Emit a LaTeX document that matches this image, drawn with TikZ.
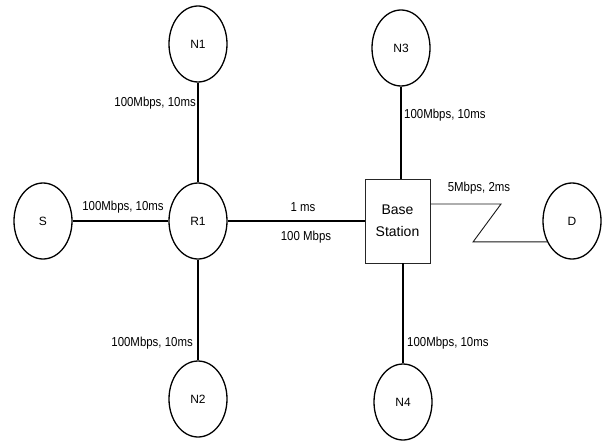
\documentclass[tikz,border=0pt]{standalone}
\usepackage{fontspec}
\setmainfont{Liberation Sans}
\newfontfamily\lblfont[FakeStretch=0.88]{Liberation Sans}
\usetikzlibrary{shapes.geometric}

\begin{document}
\begin{tikzpicture}[x=1pt,y=-1pt,
  host/.style={ellipse,draw,line width=1.3pt,minimum width=58pt,minimum height=76pt,inner sep=0pt,font=\fontsize{12}{14}\selectfont},
  bs/.style={rectangle,draw=black!85,line width=0.8pt,minimum width=65pt,minimum height=84pt,align=center,font=\fontsize{14}{22}\selectfont},
  link/.style={line width=1.2pt},
  wlink/.style={line width=0.9pt,black!90},
  lbl/.style={inner sep=0pt,font=\lblfont\fontsize{13}{15}\selectfont}]
\useasboundingbox (0,0) rectangle (604,441);
\node[host] (S) at (43,221) {S};
\node[host] (R1) at (198,221) {R1};
\node[host] (N1) at (198,44) {N1};
\node[host] (N2) at (198,399) {N2};
\node[host] (N3) at (401,48) {N3};
\node[host] (N4) at (403,402) {N4};
\node[host] (D) at (572,221) {D};
\node[bs] (BS) at (397.5,221) {Base\\Station};
\draw[link] (S) -- (R1);
\draw[link] (R1) -- (BS);
\draw[link] (N1) -- (R1);
\draw[link] (R1) -- (N2);
\draw[link] (N3) -- (N3 |- BS.north);
\draw[link] (N4) -- (N4 |- BS.south);
\coordinate (z1) at (501,204);
\path (D.220) ++(-74,0) coordinate (z2);
\draw[wlink] (BS.east |- z1) -- (z1) -- (z2) -- (D.220);
\node[lbl,anchor=east] (l1) at (196,103) {100Mbps, 10ms};
\node[lbl] (l2) at (123,207) {100Mbps, 10ms};
\node[lbl,anchor=east] (l3) at (193,343) {100Mbps, 10ms};
\node[lbl] (l4) at (303,207) {1 ms};
\node[lbl] (l5) at (306,237) {100 Mbps};
\node[lbl,anchor=west] (l6) at (404,115) {100Mbps, 10ms};
\node[lbl,anchor=west] (l7) at (407,343) {100Mbps, 10ms};
\node[lbl] (l8) at (479,188) {5Mbps, 2ms};
\end{tikzpicture}
\end{document}
